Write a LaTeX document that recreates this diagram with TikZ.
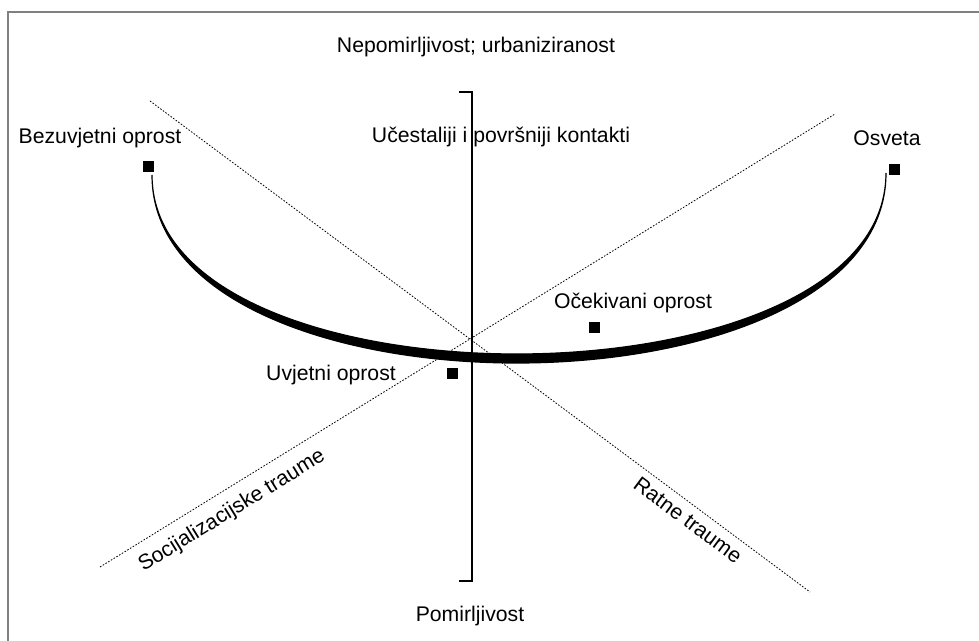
\documentclass[tikz,border=0pt]{standalone}
\usepackage{fontspec}
\setmainfont{Liberation Sans}
\usetikzlibrary{positioning}

\begin{document}
\begin{tikzpicture}[x=0.5pt, y=-0.5pt, align=center, font=\fontsize{10.6}{13}\selectfont]
      \useasboundingbox (0,0) rectangle (979,641);
      \draw[gray, line width=1pt] (8,641) -- (8,12) -- (979,12);
      %
      \node (Top) at (476,47) {Nepomirljivost; urbaniziranost};
      \node (Bot) at (470,616) {Pomirljivost};
      \node (Kont) at (501,137) {Učestaliji i površniji kontakti};
      \draw[black, line width=0.75pt] (459,92) -- (472,92) -- (472,581) -- (459,581);
      %
      \coordinate (A1) at (150,101);
      \coordinate (A2) at (810,592);
      \coordinate (B1) at (100,567);
      \coordinate (B2) at (835,114);
      \draw[black, line width=0.4pt, dash pattern=on 0.8pt off 0.8pt] (A1) -- (A2);
      \draw[black, line width=0.4pt, dash pattern=on 0.8pt off 0.8pt] (B1) -- (B2);
      \node[rotate=31.6] (Soc) at (232,511) {Socijalizacijske traume};
      \node[rotate=-36.6] (Rat) at (688,520) {Ratne traume};
      %
      \coordinate (L) at (152,175);
      \coordinate (R) at (886,173);
      \filldraw[black, line width=0.6pt] (L) .. controls +(0,252) and +(0,252) .. (R)
                      .. controls +(0,240) and +(0,240) .. (L);
      %
      \node[draw=black, thin, fill=black, rectangle, inner sep=2.5pt] (Bez) at (148,166) {};
      \node[draw=black, thin, fill=black, rectangle, inner sep=2.5pt] (Osv) at (894,169) {};
      \node[draw=black, thin, fill=black, rectangle, inner sep=2.5pt] (Oce) at (594,327) {};
      \node[draw=black, thin, fill=black, rectangle, inner sep=2.5pt] (Uvj) at (452,373) {};
      %
      \node (BezT) at (100,138) {Bezuvjetni oprost};
      \node (OsvT) at (887,138) {Osveta};
      \node (OceT) at (633,303) {Očekivani oprost};
      \node (UvjT) at (331,375) {Uvjetni oprost};
    \end{tikzpicture}
\end{document}
